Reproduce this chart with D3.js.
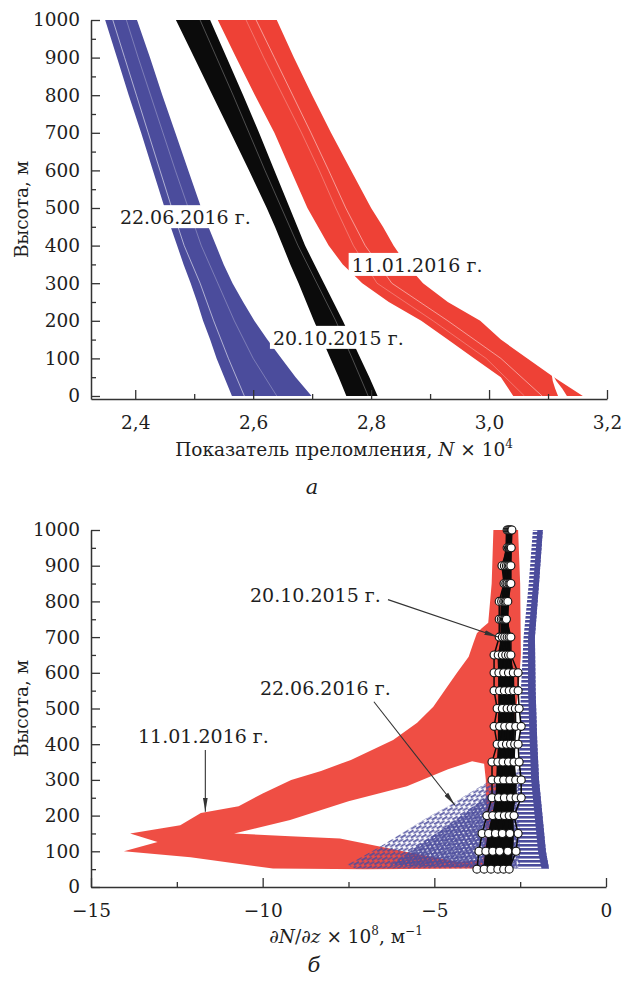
<!DOCTYPE html>
<html>
<head>
<meta charset="utf-8">
<script src="https://cdn.jsdelivr.net/npm/d3@7"></script>
<style>
body { margin: 0; background: #fff; }
text { font-family: "DejaVu Serif", serif; fill: #1e1e1e; }
</style>
</head>
<body>
<script>
const W = 624, H = 982;

// ---- panel а: refractive index N x 10^4 vs height
const hA = [0, 50, 100, 150, 200, 250, 300, 350, 400, 450, 500, 600, 700, 800, 900, 1000];
const blueLeftA  = [2.564, 2.551, 2.538, 2.527, 2.515, 2.505, 2.494, 2.482, 2.471, 2.460, 2.450, 2.430, 2.410, 2.389, 2.369, 2.349];
const blueRightA = [2.699, 2.672, 2.648, 2.624, 2.602, 2.583, 2.565, 2.550, 2.537, 2.524, 2.512, 2.490, 2.468, 2.446, 2.425, 2.403];
const blackLeftA  = [2.758, 2.745, 2.731, 2.717, 2.703, 2.690, 2.677, 2.663, 2.650, 2.637, 2.623, 2.593, 2.562, 2.531, 2.500, 2.469];
const blackRightA = [2.811, 2.797, 2.782, 2.767, 2.752, 2.736, 2.720, 2.704, 2.688, 2.675, 2.662, 2.636, 2.610, 2.583, 2.555, 2.527];
const redLeftA  = [3.041, 3.020, 2.975, 2.930, 2.885, 2.830, 2.785, 2.752, 2.728, 2.710, 2.692, 2.664, 2.636, 2.603, 2.571, 2.540];
const redRightA = [3.159, 3.110, 3.065, 3.020, 2.985, 2.930, 2.888, 2.860, 2.838, 2.820, 2.800, 2.766, 2.732, 2.700, 2.669, 2.640];

// white gaps between the ensemble members
const hGap = [0, 100, 200, 300, 400, 500, 600, 700, 800, 900, 1000];
const blueGap  = [2.585, 2.558, 2.533, 2.510, 2.483, 2.462, 2.442, 2.422, 2.402, 2.382, 2.362];
const blueGap2 = [2.640, 2.600, 2.568, 2.540, 2.512, 2.490, 2.468, 2.447, 2.426, 2.405, 2.385];
const blackGap = [2.795, 2.768, 2.740, 2.708, 2.676, 2.648, 2.620, 2.593, 2.566, 2.538, 2.510];
const redGap   = [3.090, 3.020, 2.930, 2.835, 2.790, 2.757, 2.728, 2.698, 2.667, 2.636, 2.605];
const redGap2  = [3.060, 2.995, 2.905, 2.810, 2.770, 2.740, 2.712, 2.682, 2.650, 2.618, 2.588];
const footH = [0, 20, 40, 60];
const footL = [3.117, 3.112, 3.108, 3.106];
const footR = [3.132, 3.124, 3.114, 3.107];

const xTicksA = [2.4, 2.6, 2.8, 3.0, 3.2];
const xMinorA = [2.5, 2.7, 2.9, 3.1];

// ---- panel б: vertical gradient dN/dz x 10^8
const redOuterV = [-3.28, -3.33, -3.43, -3.62, -3.76, -3.86, -4.0, -4.34, -4.63, -5.03, -5.5, -6.2, -7.43, -8.3, -9.17, -10.0, -10.7, -11.8, -12.4, -13.86, -13.06, -14.04, -12.1, -9.7, -7.0, -3.8, -3.0, -2.75, -2.75, -2.55, -2.48, -2.5, -2.56];
const redOuterH = [1000, 850, 740, 725, 711, 684, 645, 600, 560, 505, 460, 412, 356, 325, 300, 262, 226, 207, 173, 150, 126, 100, 83, 52, 50, 52, 52, 100, 400, 550, 650, 850, 1000];
const redHoleV = [-10.83, -9.2, -7.5, -5.8, -4.6, -3.9, -3.55, -3.5, -3.5, -3.6, -4.3, -5.8, -7.75, -9.2];
const redHoleH = [150, 188, 240, 282, 330, 352, 345, 300, 150, 75, 70, 98, 136, 142];

const blueFanV = [-2.55, -3.0, -3.47, -4.0, -4.54, -5.2, -5.8, -6.6, -7.2, -7.55, -7.3, -2.5];
const blueFanH = [330, 315, 292, 262, 230, 195, 160, 112, 80, 62, 52, 52];
const blueInnerV = [-2.6, -3.3, -4.0, -4.8, -5.6, -6.3, -2.6];
const blueInnerH = [300, 268, 215, 160, 108, 60, 52];
const bandH = [52, 100, 200, 300, 400, 550, 700, 850, 1000];
const blueRightB = [-1.66, -1.75, -1.85, -1.95, -2.0, -2.05, -2.07, -1.95, -1.84];
const blueCoreB  = [-1.88, -1.98, -2.08, -2.18, -2.22, -2.27, -2.27, -2.12, -2.0];
const blueTeethB = [-2.55, -2.6, -2.6, -2.55, -2.52, -2.48, -2.4, -2.25, -2.13];

const dotH = [1000, 950, 900, 850, 800, 750, 700, 650, 600, 550, 500, 450, 400, 350, 300, 250, 200, 150, 100, 50];
const blackFillL = [-2.92, -2.93, -3.0, -3.0, -3.07, -3.08, -3.08, -3.12, -3.14, -3.14, -3.14, -3.15, -3.15, -3.18, -3.2, -3.22, -3.32, -3.42, -3.5, -3.58];
const blackFillR = [-2.74, -2.76, -2.77, -2.78, -2.82, -2.84, -2.8, -2.76, -2.7, -2.68, -2.66, -2.65, -2.66, -2.66, -2.64, -2.64, -2.7, -2.68, -2.7, -2.78];
const blackM1 = [-2.88, -2.88, -3.03, -2.97, -3.11, -3.11, -3.11, -3.26, -3.26, -3.26, -3.17, -3.26, -3.17, -3.32, -3.32, -3.32, -3.47, -3.61, -3.70, -3.76];
const blackM2 = [-2.85, -2.84, -2.96, -2.92, -3.04, -3.05, -3.02, -3.14, -3.12, -3.10, -3.02, -3.10, -3.03, -3.15, -3.14, -3.13, -3.30, -3.42, -3.50, -3.55];
const blackM3 = [-2.82, -2.82, -2.90, -2.88, -2.98, -3.00, -2.95, -3.02, -2.98, -2.96, -2.88, -2.95, -2.90, -3.00, -2.98, -2.96, -3.12, -3.22, -3.30, -3.35];
const blackM4 = [-2.79, -2.80, -2.85, -2.83, -2.94, -2.96, -2.88, -2.92, -2.84, -2.82, -2.76, -2.80, -2.78, -2.84, -2.80, -2.78, -2.96, -3.02, -3.10, -3.15];
const blackM5 = [-2.76, -2.78, -2.81, -2.80, -2.90, -2.93, -2.82, -2.84, -2.70, -2.69, -2.64, -2.63, -2.66, -2.68, -2.63, -2.62, -2.82, -2.80, -2.86, -2.98];
const blackM6 = [-2.74, -2.76, -2.77, -2.77, -2.86, -2.90, -2.77, -2.77, -2.56, -2.56, -2.53, -2.47, -2.56, -2.53, -2.47, -2.47, -2.68, -2.56, -2.62, -2.82];

const xTicksB = [-15, -10, -5, 0];
const xMinorB = [-12.5, -7.5, -2.5];
const yTicks = d3.range(0, 1001, 100);
const yMinor = d3.range(50, 1000, 100);

const red = "#ee4136", blue = "#4b4c9c", black = "#0b0b0b", axisCol = "#333";

const svg = d3.select("body").append("svg").attr("width", W).attr("height", H);
const defs = svg.append("defs");

defs.append("marker").attr("id", "arr")
    .attr("viewBox", "0 -3 14 6").attr("refX", 14).attr("refY", 0)
    .attr("markerWidth", 14).attr("markerHeight", 6)
    .attr("markerUnits", "userSpaceOnUse").attr("orient", "auto")
    .append("path").attr("d", "M0,-2.4L14,0L0,2.4Z").attr("fill", "#333");

// dashed texture of the blue (dashed) ensemble, slanted like the members
function dashPattern(id, dx, w, h) {
    var p = defs.append("pattern").attr("id", id)
        .attr("patternUnits", "userSpaceOnUse").attr("width", w).attr("height", h)
        .attr("patternTransform", "rotate(-30) translate(" + dx + "," + dx / 2 + ")");
    p.append("rect").attr("x", 0).attr("y", 0).attr("width", 6).attr("height", 1.8).attr("fill", blue);
    p.append("rect").attr("x", w / 2).attr("y", h / 2).attr("width", 6).attr("height", 1.8).attr("fill", blue);
    p.append("rect").attr("x", -w / 2).attr("y", h / 2).attr("width", 6).attr("height", 1.8).attr("fill", blue);
}
dashPattern("dashA", 0, 9, 5);
dashPattern("dashB", 2, 8, 3);
var comb = defs.append("pattern").attr("id", "comb")
    .attr("patternUnits", "userSpaceOnUse").attr("width", 10).attr("height", 4);
comb.append("rect").attr("width", 10).attr("height", 2.6).attr("fill", blue);

function zip(h, l, r) { return h.map((v, i) => ({ h: v, l: l[i], r: r[i] })); }
function pts(v, h) { return v.map((d, i) => [d, h[i]]); }

function drawAxes(g, x, y, xMajor, xMinor, fmt, yBase) {
    g.append("g").attr("transform", "translate(0," + y(yBase) + ")")
        .call(d3.axisBottom(x).tickValues(xMajor).tickFormat(fmt).tickSizeInner(-9).tickSizeOuter(0).tickPadding(17));
    g.append("g").attr("transform", "translate(0," + y(yBase) + ")")
        .call(d3.axisBottom(x).tickValues(xMinor).tickFormat("").tickSizeInner(-5).tickSizeOuter(0))
        .select(".domain").remove();
    g.append("g").attr("transform", "translate(" + x.range()[0] + ",0)")
        .call(d3.axisLeft(y).tickValues(yTicks).tickFormat(d3.format("d")).tickSizeInner(-9).tickSizeOuter(0).tickPadding(11));
    g.append("g").attr("transform", "translate(" + x.range()[0] + ",0)")
        .call(d3.axisLeft(y).tickValues(yMinor).tickFormat("").tickSizeInner(-5).tickSizeOuter(0))
        .select(".domain").remove();
    g.selectAll(".domain").attr("stroke", axisCol).attr("stroke-width", 1.5);
    g.selectAll(".tick line").attr("stroke", axisCol).attr("stroke-width", 1.3);
    g.selectAll(".tick text").attr("font-family", "DejaVu Serif").attr("font-size", 18.5).attr("fill", "#1e1e1e");
}

function label(g, txt, x, y, box) {
    var t = g.append("text").attr("x", x).attr("y", y).attr("font-size", 19).text(txt);
    if (box) {
        var b = t.node().getBBox();
        g.insert("rect", function () { return t.node(); })
            .attr("x", b.x - 3).attr("y", b.y - 1).attr("width", b.width + 6).attr("height", b.height + 1)
            .attr("fill", "#fff");
    }
}

// ================= panel а
const xA = d3.scaleLinear().domain([2.325, 3.2]).range([91, 607]);
const yA = d3.scaleLinear().domain([-8, 1000]).range([399, 20]);
const gA = svg.append("g");
const areaA = d3.area().y(d => yA(d.h)).x0(d => xA(d.l)).x1(d => xA(d.r));
const lineA = d3.line().x(d => xA(d[0])).y(d => yA(d[1]));

gA.append("path").attr("d", areaA(zip(hA, blueLeftA, blueRightA))).attr("fill", blue);
gA.append("path").attr("d", areaA(zip(hA, blackLeftA, blackRightA))).attr("fill", black);
gA.append("path").attr("d", areaA(zip(hA, redLeftA, redRightA))).attr("fill", red);
gA.append("path").attr("d", areaA(zip(footH, footL, footR))).attr("fill", "#fff");
[[blueGap, 0.7], [blueGap2, 0.35], [blackGap, 0.35], [redGap, 0.6], [redGap2, 0.35]].forEach(function (gp) {
    gA.append("path").attr("d", lineA(pts(gp[0], hGap)))
        .attr("fill", "none").attr("stroke", "#fff").attr("stroke-width", 0.8).attr("opacity", gp[1]);
});

drawAxes(gA, xA, yA, xTicksA, xMinorA, d => d3.format(".1f")(d).replace(".", ","), -8);

label(gA, "22.06.2016 г.", xA(2.374), yA(457), true);
label(gA, "20.10.2015 г.", xA(2.6335), yA(136), true);
label(gA, "11.01.2016 г.", xA(2.767), yA(330), true);

gA.append("text").attr("transform", "translate(28," + yA(496) + ") rotate(-90)")
    .attr("text-anchor", "middle").attr("font-size", 18.5).text("Высота, м");
var tA = gA.append("text").attr("x", 344).attr("y", 456).attr("text-anchor", "middle").attr("font-size", 18.5);
tA.append("tspan").text("Показатель преломления, ");
tA.append("tspan").attr("font-style", "italic").text("N");
tA.append("tspan").text(" × 10");
tA.append("tspan").attr("dy", -8).attr("font-size", 12).text("4");
gA.append("text").attr("x", 312).attr("y", 494).attr("text-anchor", "middle")
    .attr("font-size", 21).attr("font-style", "italic").text("а");

// ================= panel б
const xB = d3.scaleLinear().domain([-15, 0]).range([91, 606]);
const yB = d3.scaleLinear().domain([0, 1000]).range([887, 530]);
const gB = svg.append("g");
const polyB = d3.line().x(d => xB(d[0])).y(d => yB(d[1]));
const areaB = d3.area().y(d => yB(d.h)).x0(d => xB(d.l)).x1(d => xB(d.r));

// 11.01.2016 - red solid members
gB.append("path")
    .attr("d", polyB(pts(redOuterV, redOuterH)) + "Z" + polyB(pts(redHoleV, redHoleH)) + "Z")
    .attr("fill", red).attr("fill-rule", "evenodd").attr("opacity", 0.93);

// 22.06.2016 - blue dashed members
gB.append("path").attr("d", polyB(pts(blueFanV, blueFanH)) + "Z").attr("fill", "url(#dashA)").attr("opacity", 0.9);
gB.append("path").attr("d", polyB(pts(blueInnerV, blueInnerH)) + "Z").attr("fill", "url(#dashB)").attr("opacity", 0.9);
gB.append("path").attr("d", areaB(zip(bandH, blueTeethB, blueRightB))).attr("fill", "url(#comb)");
gB.append("path").attr("d", areaB(zip(bandH, blueCoreB, blueRightB))).attr("fill", blue);

// 20.10.2015 - black members with circles
gB.append("path").attr("d", areaB(zip(dotH, blackFillL, blackFillR))).attr("fill", black);
const members = [blackM1, blackM2, blackM3, blackM4, blackM5, blackM6];
members.forEach(function (m) {
    gB.append("path").attr("d", polyB(pts(m, dotH)))
        .attr("fill", "none").attr("stroke", black).attr("stroke-width", 1.5);
});
members.forEach(function (m) {
    gB.append("g").selectAll("circle").data(pts(m, dotH)).enter().append("circle")
        .attr("cx", d => xB(d[0])).attr("cy", d => yB(d[1])).attr("r", 4)
        .attr("fill", "#fff").attr("stroke", "#111").attr("stroke-width", 1.1);
});

drawAxes(gB, xB, yB, xTicksB, xMinorB, d => d3.format("d")(d).replace("-", "−"), 0);

label(gB, "20.10.2015 г.", xB(-10.37), yB(798), false);
label(gB, "22.06.2016 г.", xB(-10.08), yB(538), false);
label(gB, "11.01.2016 г.", xB(-13.63), yB(403), false);

const arrows = [[-6.35, 805, -3.14, 700], [-6.76, 519, -4.40, 229], [-11.67, 384, -11.67, 211]];
gB.selectAll(".arrow").data(arrows).enter().append("line")
    .attr("x1", d => xB(d[0])).attr("y1", d => yB(d[1]))
    .attr("x2", d => xB(d[2])).attr("y2", d => yB(d[3]))
    .attr("stroke", "#333").attr("stroke-width", 1.1).attr("marker-end", "url(#arr)");

gB.append("text").attr("transform", "translate(28," + yB(500) + ") rotate(-90)")
    .attr("text-anchor", "middle").attr("font-size", 18.5).text("Высота, м");
var tB = gB.append("text").attr("x", 346).attr("y", 943).attr("text-anchor", "middle").attr("font-size", 18.5);
tB.append("tspan").attr("font-style", "italic").text("∂N");
tB.append("tspan").text("/");
tB.append("tspan").attr("font-style", "italic").text("∂z");
tB.append("tspan").text(" × 10");
tB.append("tspan").attr("dy", -8).attr("font-size", 12).text("8");
tB.append("tspan").attr("dy", 8).text(", м");
tB.append("tspan").attr("dy", -8).attr("font-size", 12).text("−1");
gB.append("text").attr("x", 314).attr("y", 972).attr("text-anchor", "middle")
    .attr("font-size", 21).attr("font-style", "italic").text("б");
</script>
</body>
</html>
